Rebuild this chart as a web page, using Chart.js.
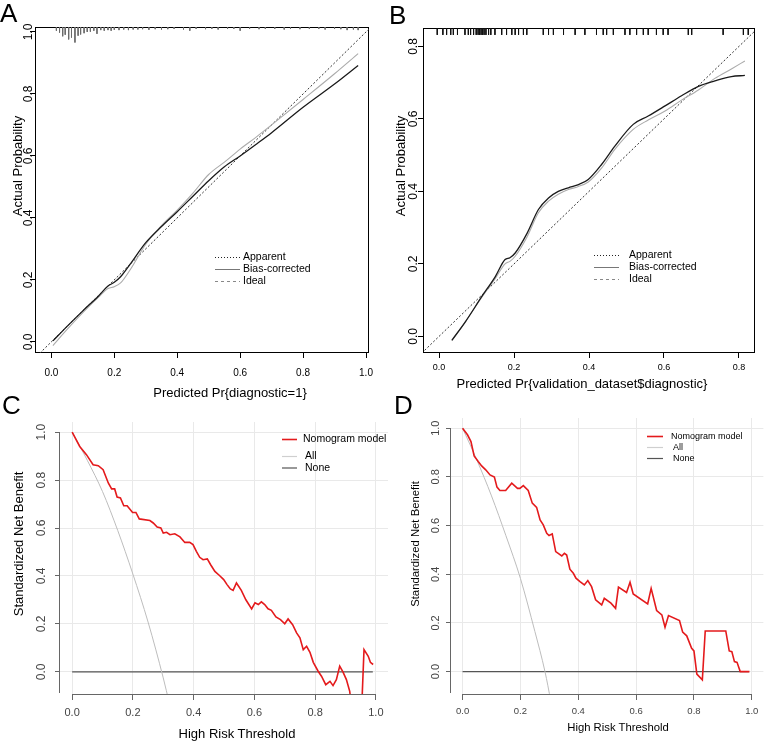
<!DOCTYPE html>
<html>
<head>
<meta charset="utf-8">
<script src="https://cdn.jsdelivr.net/npm/chart.js@4.4.0/dist/chart.umd.min.js"></script>
<style>
  body { margin: 0; background: #fff; font-family: "Liberation Sans", Arial, Helvetica, sans-serif; }
  #fig { position: relative; width: 764px; height: 741px; overflow: hidden; background: #fff; }
  .panel { position: absolute; }
  .lab { position: absolute; font-size: 26px; line-height: 26px; color: #000; }
  .ttl { position: absolute; white-space: nowrap; color: #000; transform: translate(-50%, -50%); }
  .ttl.v { transform: translate(-50%, -50%) rotate(-90deg); }
</style>
</head>
<body>
<div id="fig">
  <canvas class="panel" id="cA" width="382" height="400" style="left:0;top:0"></canvas>
  <canvas class="panel" id="cB" width="382" height="400" style="left:382px;top:0"></canvas>
  <canvas class="panel" id="cC" width="390" height="341" style="left:0;top:400px"></canvas>
  <canvas class="panel" id="cD" width="374" height="341" style="left:390px;top:400px"></canvas>

  <div class="lab" style="left:0;top:0">A</div>
  <div class="lab" style="left:389px;top:2px">B</div>
  <div class="lab" style="left:2px;top:392px">C</div>
  <div class="lab" style="left:394px;top:392px">D</div>

  <div class="ttl" style="left:230px;top:392px;font-size:13px">Predicted Pr{diagnostic=1}</div>
  <div class="ttl v" style="left:17px;top:166px;font-size:13px">Actual Probability</div>
  <div class="ttl" style="left:582px;top:383px;font-size:13px">Predicted Pr{validation_dataset$diagnostic}</div>
  <div class="ttl v" style="left:400px;top:166px;font-size:13px">Actual Probability</div>
  <div class="ttl" style="left:237px;top:733px;font-size:13px">High Risk Threshold</div>
  <div class="ttl v" style="left:18px;top:544px;font-size:13px">Standardized Net Benefit</div>
  <div class="ttl" style="left:618px;top:727px;font-size:11.3px">High Risk Threshold</div>
  <div class="ttl v" style="left:415px;top:544px;font-size:11.3px">Standardized Net Benefit</div>
</div>
<script>
// ---- A: calibration, training set
var calA_pred     = [0.005, 0.05, 0.1, 0.15, 0.18, 0.2, 0.22, 0.25, 0.3, 0.35, 0.4, 0.45, 0.5, 0.55, 0.6, 0.65, 0.7, 0.8, 0.9, 0.975];
var calA_apparent = [0.003, 0.05, 0.1, 0.148, 0.18, 0.192, 0.21, 0.25, 0.32, 0.372, 0.42, 0.47, 0.52, 0.565, 0.6, 0.637, 0.675, 0.757, 0.832, 0.892];
var calA_bias     = [-0.012, 0.04, 0.094, 0.144, 0.172, 0.178, 0.19, 0.232, 0.315, 0.375, 0.425, 0.48, 0.54, 0.58, 0.622, 0.66, 0.7, 0.782, 0.865, 0.93];
// spike histogram of predictions along the top
var rugA_x   = [0.016, 0.026, 0.036, 0.044, 0.055, 0.064, 0.075, 0.085, 0.093, 0.104, 0.114, 0.124, 0.135, 0.145, 0.157, 0.168, 0.18, 0.19, 0.2, 0.215, 0.23, 0.245, 0.26, 0.275, 0.29, 0.31, 0.33, 0.35, 0.37, 0.39, 0.42, 0.44, 0.46, 0.49, 0.51, 0.53, 0.56, 0.58, 0.6, 0.63, 0.66, 0.68, 0.71, 0.74, 0.76, 0.79, 0.82, 0.85, 0.87, 0.9, 0.92, 0.94, 0.96, 0.975];
var rugA_len = [0.012, 0.018, 0.03, 0.025, 0.04, 0.034, 0.05, 0.028, 0.024, 0.02, 0.016, 0.015, 0.012, 0.022, 0.01, 0.012, 0.01, 0.012, 0.009, 0.01, 0.008, 0.01, 0.008, 0.008, 0.007, 0.009, 0.007, 0.008, 0.007, 0.006, 0.008, 0.012, 0.006, 0.007, 0.006, 0.008, 0.006, 0.006, 0.012, 0.006, 0.007, 0.006, 0.006, 0.008, 0.006, 0.007, 0.006, 0.006, 0.008, 0.006, 0.007, 0.01, 0.008, 0.01];
var ideal = [-0.1, 1.1];

// ---- B: calibration, validation set
var calB_pred     = [0.034, 0.07, 0.114, 0.15, 0.176, 0.189, 0.203, 0.235, 0.265, 0.292, 0.318, 0.345, 0.37, 0.398, 0.434, 0.469, 0.518, 0.558, 0.603, 0.647, 0.692, 0.736, 0.78, 0.816];
var calB_apparent = [-0.011, 0.04, 0.11, 0.165, 0.212, 0.217, 0.23, 0.285, 0.35, 0.382, 0.4, 0.41, 0.418, 0.433, 0.475, 0.525, 0.585, 0.608, 0.636, 0.664, 0.69, 0.705, 0.717, 0.72];
var calB_bias     = [-0.011, 0.04, 0.108, 0.16, 0.2, 0.207, 0.221, 0.275, 0.341, 0.373, 0.392, 0.405, 0.413, 0.426, 0.465, 0.516, 0.571, 0.597, 0.622, 0.652, 0.68, 0.712, 0.738, 0.76];
var rugB_x = [-0.005, 0.01, 0.02, 0.031, 0.038, 0.049, 0.069, 0.078, 0.084, 0.092, 0.099, 0.104, 0.108, 0.112, 0.116, 0.12, 0.125, 0.132, 0.138, 0.149, 0.167, 0.18, 0.194, 0.203, 0.212, 0.225, 0.234, 0.278, 0.292, 0.305, 0.332, 0.363, 0.389, 0.42, 0.438, 0.447, 0.465, 0.496, 0.509, 0.527, 0.545, 0.558, 0.58, 0.598, 0.611, 0.665, 0.674, 0.758, 0.812, 0.825];

// ---- C: decision curve, training set
var dcaC_thr  = [0, 0.025, 0.047, 0.069, 0.086, 0.102, 0.119, 0.13, 0.14, 0.148, 0.159, 0.17, 0.181, 0.199, 0.21, 0.221, 0.256, 0.267, 0.28, 0.292, 0.3, 0.311, 0.322, 0.338, 0.355, 0.371, 0.387, 0.398, 0.409, 0.42, 0.431, 0.445, 0.456, 0.47, 0.486, 0.499, 0.51, 0.521, 0.53, 0.541, 0.557, 0.572, 0.591, 0.602, 0.613, 0.623, 0.634, 0.645, 0.656, 0.671, 0.686, 0.7, 0.711, 0.726, 0.739, 0.75, 0.761, 0.772, 0.783, 0.794, 0.81, 0.821, 0.835, 0.849, 0.859, 0.87, 0.881, 0.892, 0.903, 0.914, 0.925, 0.945, 0.955, 0.961, 0.975, 0.982, 0.991];
var dcaC_nomo = [1.0, 0.94, 0.906, 0.864, 0.86, 0.843, 0.788, 0.763, 0.763, 0.729, 0.725, 0.693, 0.693, 0.665, 0.665, 0.638, 0.631, 0.621, 0.604, 0.6, 0.579, 0.582, 0.572, 0.576, 0.563, 0.54, 0.54, 0.531, 0.503, 0.478, 0.468, 0.471, 0.447, 0.419, 0.401, 0.385, 0.364, 0.346, 0.34, 0.371, 0.34, 0.301, 0.263, 0.288, 0.281, 0.292, 0.281, 0.263, 0.257, 0.229, 0.218, 0.201, 0.221, 0.197, 0.163, 0.142, 0.093, 0.107, 0.082, 0.04, 0.003, -0.018, -0.053, -0.039, -0.057, -0.032, 0.024, -0.001, -0.032, -0.081, -0.2, -0.2, -0.1, 0.093, 0.065, 0.04, 0.031];
var dcaC_allThr = [0, 0.025, 0.05, 0.1, 0.15, 0.2, 0.25, 0.3, 0.32];
var dcaC_all    = [1.0, 0.942, 0.882, 0.752, 0.59, 0.408, 0.208, -0.025, -0.13];

// ---- D: decision curve, validation set
var dcaD_thr  = [0, 0.017, 0.029, 0.04, 0.054, 0.066, 0.08, 0.095, 0.11, 0.119, 0.129, 0.149, 0.17, 0.19, 0.198, 0.21, 0.227, 0.241, 0.256, 0.268, 0.279, 0.291, 0.299, 0.31, 0.322, 0.343, 0.352, 0.36, 0.371, 0.383, 0.392, 0.406, 0.421, 0.433, 0.446, 0.46, 0.481, 0.49, 0.513, 0.529, 0.539, 0.567, 0.579, 0.59, 0.64, 0.652, 0.671, 0.689, 0.7, 0.712, 0.75, 0.761, 0.775, 0.792, 0.8, 0.81, 0.829, 0.839, 0.91, 0.922, 0.931, 0.94, 0.949, 0.96, 0.992];
var dcaD_nomo = [1.0, 0.973, 0.945, 0.886, 0.863, 0.845, 0.829, 0.808, 0.799, 0.758, 0.744, 0.744, 0.774, 0.753, 0.753, 0.764, 0.744, 0.692, 0.675, 0.623, 0.603, 0.568, 0.559, 0.566, 0.493, 0.475, 0.486, 0.479, 0.421, 0.404, 0.384, 0.37, 0.356, 0.374, 0.349, 0.295, 0.274, 0.301, 0.281, 0.26, 0.347, 0.325, 0.367, 0.319, 0.278, 0.342, 0.251, 0.233, 0.182, 0.23, 0.21, 0.162, 0.147, 0.096, 0.085, -0.01, -0.034, 0.167, 0.167, 0.085, 0.082, 0.041, 0.038, 0.0, 0.0];
var dcaD_allThr = [0, 0.025, 0.05, 0.1, 0.15, 0.2, 0.25, 0.285, 0.305];
var dcaD_all    = [1.0, 0.935, 0.868, 0.722, 0.558, 0.383, 0.165, 0.0, -0.12];

var noneThr = [0, 0.99];
var noneVal = [0, 0];

var ticks01 = [0, 0.2, 0.4, 0.6, 0.8, 1.0];
var ticks08 = [0, 0.2, 0.4, 0.6, 0.8];
var calLabels = ['Apparent', 'Bias-corrected', 'Ideal'];
var dcaLabels = ['Nomogram model', 'All', 'None'];

var fam = '"Liberation Sans", Arial, Helvetica, sans-serif';
Chart.defaults.font.family = fam;

function pts(xs, ys) {
  return xs.map(function(x, i) { return {x: x, y: ys[i]}; });
}
function spikes(xs, lens, top) {
  var out = [];
  xs.forEach(function(x, i) {
    out.push({x: x, y: top}, {x: x, y: top - lens[i]}, {x: x, y: null});
  });
  return out;
}

function axis(o) {
  return {
    type: 'linear', min: o.min, max: o.max,
    afterBuildTicks: function(s) { s.ticks = o.ticks.map(function(v) { return {value: v}; }); },
    afterFit: function(s) { if (o.vertical) s.width = o.size; else s.height = o.size; },
    border: {display: false},
    grid: {drawOnChartArea: !!o.grid, color: '#e9e9e9', lineWidth: 1,
           drawTicks: true, tickLength: o.tl, tickColor: o.tickColor, tickWidth: 1},
    ticks: {autoSkip: false, color: o.color, font: {size: o.font}, padding: o.pad,
            minRotation: o.vertical ? 90 : 0, maxRotation: o.vertical ? 90 : 0,
            crossAlign: o.vertical ? 'center' : 'near',
            callback: function(v) { return Number(v).toFixed(1); }}
  };
}

// R style frame: full box for calibration plots, partial axis lines for DCA
function frame(kind) {
  return {
    id: 'frame',
    beforeDatasetsDraw: function(chart) {
      var a = chart.chartArea, ctx = chart.ctx;
      var sx = chart.scales.x, sy = chart.scales.y;
      ctx.save();
      ctx.lineWidth = 1;
      if (kind === 'box') {
        ctx.strokeStyle = '#000';
        ctx.strokeRect(Math.round(a.left) + 0.5, Math.round(a.top) + 0.5,
                       Math.round(a.right - a.left) - 1, Math.round(a.bottom - a.top) - 1);
      } else {
        ctx.strokeStyle = '#666';
        ctx.beginPath();
        var yb = Math.round(a.bottom) + 0.5;
        ctx.moveTo(sx.getPixelForValue(0), yb);
        ctx.lineTo(sx.getPixelForValue(1), yb);
        var xl = Math.round(a.left) - 0.5;
        ctx.moveTo(xl, sy.getPixelForValue(1));
        ctx.lineTo(xl, a.bottom - 1);
        ctx.stroke();
      }
      ctx.restore();
    }
  };
}

function legendBox(L) {
  return {
    id: 'rlegend',
    afterDatasetsDraw: function(chart) {
      var ctx = chart.ctx;
      ctx.save();
      ctx.font = L.size + 'px ' + fam;
      ctx.textBaseline = 'middle';
      L.labels.forEach(function(t, i) {
        var st = L.styles[i], y = L.rows[i] + 0.5;
        ctx.beginPath();
        ctx.setLineDash(st.dash || []);
        ctx.strokeStyle = st.color;
        ctx.lineWidth = st.w || 1;
        ctx.moveTo(L.x, y);
        ctx.lineTo(L.x + L.len, y);
        ctx.stroke();
        ctx.setLineDash([]);
        ctx.fillStyle = '#000';
        ctx.fillText(t, L.x + L.len + L.gap + (st.dx || 0), y);
      });
      ctx.restore();
    }
  };
}

function line(data, color, width, extra) {
  var d = {data: data, borderColor: color, borderWidth: width, pointRadius: 0,
           fill: false, tension: 0, spanGaps: false};
  for (var k in extra) d[k] = extra[k];
  return d;
}

var calStyles = [{color: '#222', dash: [1, 2]}, {color: '#777'}, {color: '#888', dash: [3, 3]}];
var dcaStyles = [{color: '#e41a1c', w: 1.6}, {color: '#cfcfcf', w: 1.2, dx: 2}, {color: '#555', w: 1.2, dx: 2}];

function calChart(id, o) {
  var yTop = o.ymax;
  return new Chart(document.getElementById(id), {
    type: 'line',
    data: {datasets: [
      line(pts(o.pred, o.apparent), '#1a1a1a', 1.3, {label: calLabels[0], cubicInterpolationMode: 'monotone'}),
      line(pts(o.pred, o.bias), '#ababab', 1.1, {label: calLabels[1], cubicInterpolationMode: 'monotone'}),
      line(pts(ideal, ideal), '#333', 1, {label: calLabels[2], borderDash: [2, 2]}),
      line(spikes(o.rugX, o.rugLen, yTop), o.rugColor, 1, {label: 'rug'})
    ]},
    options: {
      responsive: false, animation: false, events: [],
      layout: {padding: {top: o.area.top, right: o.area.right, left: 0, bottom: 0}},
      plugins: {legend: {display: false}, tooltip: {enabled: false}},
      scales: {
        x: axis({min: o.xmin, max: o.xmax, ticks: o.xticks, size: o.xsize, tl: 5, tickColor: '#000',
                 color: '#000', font: o.xfont, pad: o.xpad}),
        y: axis({min: o.ymin, max: o.ymax, ticks: o.yticks, size: o.ysize, tl: 5, tickColor: '#000',
                 color: '#000', font: 12, pad: o.ypad, vertical: true})
      }
    },
    plugins: [frame('box'), legendBox(o.legend)]
  });
}

function dcaChart(id, o) {
  return new Chart(document.getElementById(id), {
    type: 'line',
    data: {datasets: [
      line(pts(o.thr, o.nomo), '#e41a1c', 1.6, {label: dcaLabels[0]}),
      line(pts(o.allThr, o.all), '#bdbdbd', 1, {label: dcaLabels[1], cubicInterpolationMode: 'monotone'}),
      line(pts(noneThr, noneVal), '#555', 1.2, {label: dcaLabels[2]})
    ]},
    options: {
      responsive: false, animation: false, events: [],
      layout: {padding: {top: o.area.top, right: o.area.right, left: 0, bottom: 0}},
      plugins: {legend: {display: false}, tooltip: {enabled: false}},
      scales: {
        x: axis({min: -0.04, max: 1.04, ticks: ticks01, size: o.xsize, tl: 6, tickColor: '#666',
                 color: '#444', font: o.xfont, pad: o.xpad, grid: true}),
        y: axis({min: -0.092, max: 1.042, ticks: ticks01, size: o.ysize, tl: 5, tickColor: '#666',
                 color: '#444', font: o.yfont, pad: o.ypad, vertical: true, grid: true})
      }
    },
    plugins: [frame('axes'), legendBox(o.legend)]
  });
}

calChart('cA', {
  pred: calA_pred, apparent: calA_apparent, bias: calA_bias,
  rugX: rugA_x, rugLen: rugA_len, rugColor: '#6a6a6a',
  xmin: -0.052, xmax: 1.01, ymin: -0.036, ymax: 1.016, xticks: ticks01, yticks: ticks01,
  area: {top: 27, right: 5}, xsize: 47, ysize: 35, xfont: 10, xpad: 9, ypad: -6.6,
  legend: {labels: calLabels, styles: calStyles, x: 215, len: 25, gap: 3, rows: [257, 269, 281], size: 10.5}
});

calChart('cB', {
  pred: calB_pred, apparent: calB_apparent, bias: calB_bias,
  rugX: rugB_x, rugLen: rugB_x.map(function() { return 0.019; }), rugColor: '#111',
  xmin: -0.043, xmax: 0.843, ymin: -0.046, ymax: 0.851, xticks: ticks08, yticks: ticks08,
  area: {top: 28, right: 9}, xsize: 47, ysize: 41, xfont: 9, xpad: 4.6, ypad: -4,
  legend: {labels: calLabels, styles: calStyles, x: 212, len: 25, gap: 10, rows: [255, 267, 279], size: 10.5}
});

dcaChart('cC', {
  thr: dcaC_thr, nomo: dcaC_nomo, allThr: dcaC_allThr, all: dcaC_all,
  area: {top: 22, right: 2}, xsize: 47, ysize: 60, xfont: 11, xpad: 6.4, yfont: 12, ypad: 5.2,
  legend: {labels: dcaLabels, styles: dcaStyles, x: 282, len: 15, gap: 6, rows: [39, 56, 67.5], size: 10.5}
});

dcaChart('cD', {
  thr: dcaD_thr, nomo: dcaD_nomo, allThr: dcaD_allThr, all: dcaD_all,
  area: {top: 18, right: 0}, xsize: 47, ysize: 61, xfont: 9.5, xpad: 5.6, yfont: 11, ypad: 2.6,
  legend: {labels: dcaLabels, styles: dcaStyles, x: 257, len: 16, gap: 8, rows: [36, 47, 58], size: 9}
});
</script>
</body>
</html>
